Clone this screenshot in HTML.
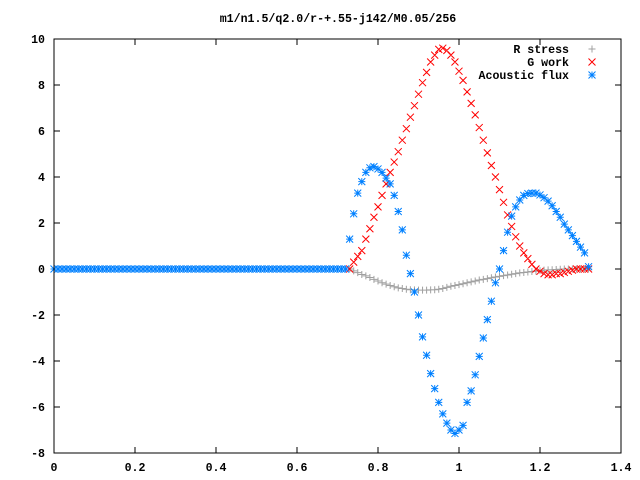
<!DOCTYPE html>
<html><head><meta charset="utf-8"><style>
html,body{margin:0;padding:0;background:#fff}
svg{display:block}
text{font-family:"Liberation Mono",monospace;font-size:11.6px;font-weight:bold;fill:#000}
</style></head><body>
<svg id="chart" width="640" height="480" viewBox="0 0 640 480" xmlns="http://www.w3.org/2000/svg">
<rect width="640" height="480" fill="#fff"/>
<text x="338" y="22" text-anchor="middle">m1/n1.5/q2.0/r-+.55-j142/M0.05/256</text>
<g id="axes"></g>
<g id="series"></g>
<g id="legend"></g>
<rect x="54" y="39" width="567" height="414" fill="none" stroke="#000" stroke-width="1"/>
</svg>
<script>
const xTicks = [0, 0.2, 0.4, 0.6, 0.8, 1, 1.2, 1.4];
const xTickLabels = ["0", "0.2", "0.4", "0.6", "0.8", "1", "1.2", "1.4"];
const yTicks = [-8, -6, -4, -2, 0, 2, 4, 6, 8, 10];
const yTickLabels = ["-8", "-6", "-4", "-2", "0", "2", "4", "6", "8", "10"];
const seriesNames = ["R stress", "G work", "Acoustic flux"];

// x samples 0.00 .. 1.32 (step 0.01)
const flatZeros = [0,0,0,0,0,0,0,0,0,0,0,0,0,0,0,0,0,0,0,0,0,0,0,0,0,0,0,0,0,0,0,0,0,0,0,0,0,0,0,0,0,0,0,0,0,0,0,0,0,0,0,0,0,0,0,0,0,0,0,0,0,0,0,0,0,0,0,0,0,0,0,0,0];
// active region 0.73 .. 1.32
const rStress = [0,-0.08,-0.16,-0.24,-0.3,-0.37,-0.45,-0.52,-0.6,-0.66,-0.72,-0.77,-0.82,-0.85,-0.88,-0.9,-0.91,-0.92,-0.92,-0.92,-0.91,-0.9,-0.88,-0.85,-0.8,-0.75,-0.72,-0.68,-0.64,-0.6,-0.56,-0.52,-0.48,-0.45,-0.42,-0.38,-0.35,-0.32,-0.29,-0.26,-0.23,-0.2,-0.17,-0.15,-0.13,-0.11,-0.09,-0.07,-0.05,-0.04,-0.03,-0.02,-0.01,0,0,0,0,0,0,0];
const gWork = [0,0.3,0.55,0.8,1.3,1.75,2.25,2.7,3.2,3.7,4.2,4.65,5.1,5.6,6.1,6.6,7.1,7.6,8.1,8.55,9.0,9.3,9.55,9.6,9.5,9.3,9.0,8.6,8.2,7.7,7.2,6.7,6.15,5.6,5.05,4.5,4.0,3.45,2.9,2.35,1.85,1.4,1.0,0.7,0.45,0.2,0,-0.1,-0.2,-0.25,-0.25,-0.2,-0.2,-0.15,-0.1,-0.05,0,0,0,0];
const acousticFlux = [1.3,2.4,3.3,3.8,4.2,4.4,4.45,4.35,4.2,3.95,3.7,3.2,2.5,1.7,0.6,-0.2,-1.0,-2.0,-2.95,-3.75,-4.55,-5.2,-5.8,-6.3,-6.7,-7.0,-7.15,-7.0,-6.8,-5.8,-5.3,-4.6,-3.8,-3.0,-2.2,-1.4,-0.6,0.0,0.8,1.6,2.3,2.7,3.0,3.2,3.28,3.3,3.3,3.22,3.1,2.95,2.75,2.5,2.25,1.95,1.7,1.45,1.2,0.95,0.7,0.1];

const NS = "http://www.w3.org/2000/svg";
const X0 = 54, X1 = 621, Y0 = 453, Y1 = 39;
const xMin = 0, xMax = 1.4, yMin = -8, yMax = 10;
function xs(v){ return X0 + (v - xMin) / (xMax - xMin) * (X1 - X0); }
function ys(v){ return Y0 - (v - yMin) / (yMax - yMin) * (Y0 - Y1); }
function mk(tag, attrs, parent){ const e = document.createElementNS(NS, tag); for (const k in attrs) e.setAttribute(k, attrs[k]); parent.appendChild(e); return e; }

const axes = document.getElementById('axes');
xTicks.forEach((t, i) => {
  const x = xs(t);
  const a = mk('path', {d:`M${x} ${Y0}v-6M${x} ${Y1}v6`, stroke:'#000', 'stroke-width':1, fill:'none'}, axes);
  
  
  const l = mk('text', {x:x, y:471, 'text-anchor':'middle'}, axes);
  l.textContent = xTickLabels[i];
  
  
});
yTicks.forEach((t, i) => {
  const y = ys(t);
  const a = mk('path', {d:`M${X0} ${y}h6M${X1} ${y}h-6`, stroke:'#000', 'stroke-width':1, fill:'none'}, axes);
  
  
  const l = mk('text', {x:45, y:y + 4, 'text-anchor':'end'}, axes);
  l.textContent = yTickLabels[i];
  
  
});

function plusPath(x, y){ return `M${x-3.5} ${y}h7M${x} ${y-3.5}v7`; }
function crossPath(x, y){ return `M${x-3.5} ${y-3.5}l7 7M${x-3.5} ${y+3.5}l7 -7`; }
function starPath(x, y){ return plusPath(x, y) + crossPath(x, y); }

const seriesG = document.getElementById('series');
function drawSeries(vals, startIdx, shape, color, name){
  const g = mk('g', {}, seriesG);
  
  
  let d = '';
  vals.forEach((v, i) => { const xv = (startIdx + i) * 0.01; d += shape(xs(xv), ys(v)); });
  mk('path', {d:d, stroke:color, 'stroke-width':1, fill:'none'}, g);
}
drawSeries(rStress, 73, plusPath, '#a0a0a0', 'r-stress-series');
drawSeries(gWork, 73, crossPath, '#ff0000', 'g-work-series');
drawSeries(flatZeros, 0, starPath, '#0080ff', 'acoustic-flux-flat');
drawSeries(acousticFlux, 73, starPath, '#0080ff', 'acoustic-flux-series');

const legend = document.getElementById('legend');
const shapes = [plusPath, crossPath, starPath];
const colors = ['#a0a0a0', '#ff0000', '#0080ff'];
seriesNames.forEach((n, i) => {
  const y = 49 + i * 13;
  const g = mk('g', {}, legend);
  
  
  const t = mk('text', {x:569, y:y + 4, 'text-anchor':'end'}, g);
  t.textContent = n;
  mk('path', {d:shapes[i](592, y), stroke:colors[i], 'stroke-width':1, fill:'none'}, g);
});
</script>
</body></html>
